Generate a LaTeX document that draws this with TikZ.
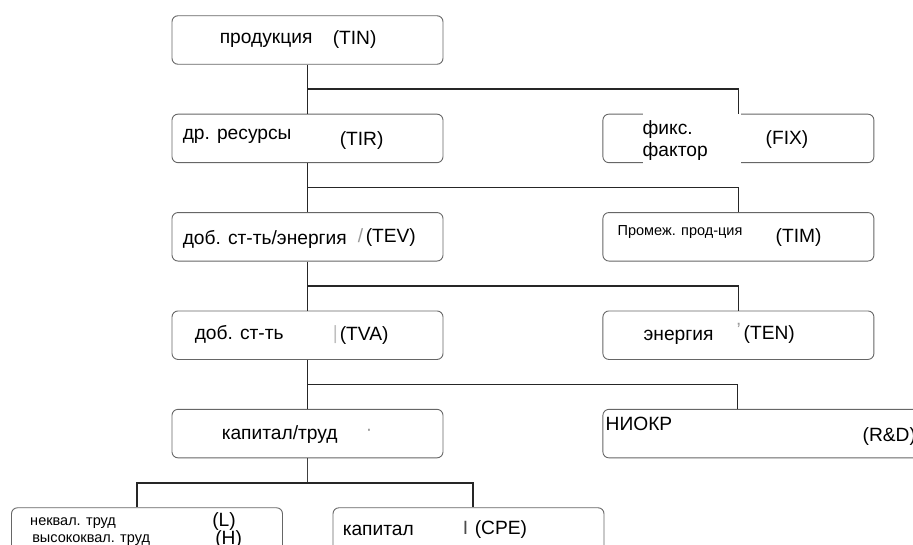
\documentclass[tikz,border=0pt]{standalone}
\usepackage{fontspec}
\setmainfont{Liberation Sans}
\usetikzlibrary{positioning}

\begin{document}
\begin{tikzpicture}[
    x=1pt, y=1pt,
    node distance = 49pt,
    block/.style={rectangle, draw=black!60, line width=0.9pt, fill=white, rounded corners=6pt, minimum width=271pt, minimum height=48.5pt, inner sep=0pt},
    txt/.style={inner sep=0pt, anchor=west, text height=1ex, text depth=0pt, font=\fontsize{19.2}{22}\selectfont},
    small/.style={txt, font=\fontsize{14.5}{17}\selectfont},
    ghost/.style={txt, text=black!40},
    line/.style={draw=black!85, line width=1.6pt},
    thinline/.style={draw=black!75, line width=0.9pt}
    ]

    \useasboundingbox (0,0) rectangle (913,-544);
    \clip (0,0) rectangle (913,-544);

    % main column
    \node [block] (tin) at (307.5,-40) {};
    \node [block, below=of tin] (tir) {};
    \node [block, below=of tir] (tev) {};
    \node [block, below=of tev] (tva) {};
    \node [block, below=of tva] (kl) {};
    % side column
    \node [block, right=159pt of tir] (fix) {};
    \node [block, right=159pt of tev] (tim) {};
    \node [block, right=159pt of tva] (ten) {};
    \node [block, right=159pt of kl, minimum width=330pt] (rd) {};
    % bottom row
    \node [block, below=of kl, xshift=-160.5pt] (lh) {};
    \node [block, below=of kl, xshift=161pt] (cpe) {};

    % texts
    \node [txt] (tin-a) at ([xshift=48pt,yshift=-1pt]tin.west) {продукция};
    \node [txt] (tin-b) at ([xshift=161pt,yshift=-2pt]tin.west) {(TIN)};

    \node [txt] (tir-a) at ([xshift=11pt,yshift=1.5pt]tir.west) {др. ресурсы};
    \node [txt] (tir-b) at ([xshift=168pt,yshift=-4.5pt]tir.west) {(TIR)};

    \node [txt] (tev-a) at ([xshift=11pt,yshift=-5pt]tev.west) {доб. ст-ть/энергия};
    \node [ghost] (tev-g) at ([xshift=186pt,yshift=-3pt]tev.west) {/};
    \node [txt] (tev-b) at ([xshift=194pt,yshift=-3pt]tev.west) {(TEV)};

    \node [txt] (tva-a) at ([xshift=23pt,yshift=-2pt]tva.west) {доб. ст-ть};
    \node [ghost, text=black!25] (tva-g) at ([xshift=161pt,yshift=-2pt]tva.west) {|};
    \node [txt] (tva-b) at ([xshift=168pt,yshift=-2.5pt]tva.west) {(TVA)};

    \node [txt] (kl-a) at ([xshift=50pt,yshift=-3pt]kl.west) {капитал/труд};
    \node [ghost] (kl-g) at ([xshift=194pt,yshift=1pt]kl.west) {·};

    \node [font=\fontsize{19.2}{22}\selectfont, fill=white, inner xsep=0pt, text width=98pt, align=left, minimum height=58pt, anchor=west] (fix-a) at ([xshift=40pt,yshift=-2.5pt]fix.west) {фикс.\\фактор};
    \node [txt] (fix-b) at ([xshift=163pt,yshift=-3.5pt]fix.west) {(FIX)};

    \node [small] (tim-a) at ([xshift=15pt,yshift=4pt]tim.west) {Промеж. прод-ция};
    \node [txt] (tim-b) at ([xshift=173pt,yshift=-3pt]tim.west) {(TIM)};

    \node [txt] (ten-a) at ([xshift=41pt,yshift=-2.5pt]ten.west) {энергия};
    \node [ghost] (ten-g) at ([xshift=134pt,yshift=1.5pt]ten.west) {'};
    \node [txt] (ten-b) at ([xshift=141pt,yshift=-1.5pt]ten.west) {(TEN)};

    \node [txt] (rd-a) at ([xshift=3pt,yshift=5.6pt]rd.west) {НИОКР};
    \node [txt] (rd-b) at ([xshift=260pt,yshift=-5.4pt]rd.west) {(R\&D)};

    \node [small] (lh-a) at ([xshift=19pt,yshift=9pt]lh.west) {неквал. труд};
    \node [small] (lh-b) at ([xshift=21pt,yshift=-8pt]lh.west) {высококвал. труд};
    \node [txt] (lh-c) at ([xshift=201pt,yshift=8pt]lh.west) {(L)};
    \node [txt] (lh-d) at ([xshift=204pt,yshift=-10pt]lh.west) {(H)};

    \node [txt] (cpe-a) at ([xshift=10pt,yshift=-1pt]cpe.west) {капитал};
    \node [txt, text=black!70] (cpe-g) at ([xshift=130pt]cpe.west) {I};
    \node [txt] (cpe-b) at ([xshift=142pt]cpe.west) {(CPE)};

    % junctions
    \path (tin) -- coordinate[midway] (j1) (tir);
    \path (tir) -- coordinate[midway] (j2) (tev);
    \path (tev) -- coordinate[midway] (j3) (tva);
    \path (tva) -- coordinate[midway] (j4) (kl);
    \path (kl.south) -- coordinate[midway] (j5) (lh.north -| kl);

    % connectors
    \path [line] (tin) -- (tir);
    \path [line] (tir) -- (tev);
    \path [line] (tev) -- (tva);
    \path [line] (tva) -- (kl);
    \path [line] (j1) -| (fix.north);
    \path [line] (j2) -| (tim.north);
    \path [line] (j3) -| (ten.north);
    \path [line] (j4) -| ([xshift=-1pt]rd.north -| ten);
    \path [thinline] (kl.south) -- (j5);
    \path [line] ([xshift=-10pt]lh.north) |- (j5) -| ([xshift=4.5pt]cpe.north);
\end{tikzpicture}
\end{document}
